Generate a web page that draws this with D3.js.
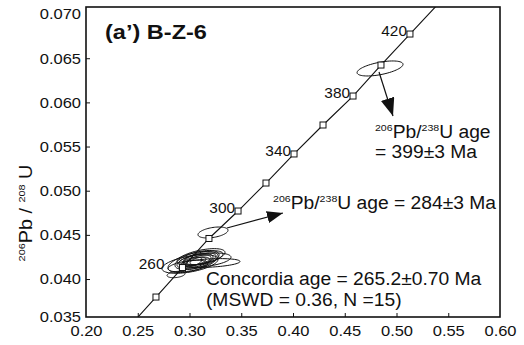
<!DOCTYPE html>
<html><head><meta charset="utf-8">
<script src="https://cdn.jsdelivr.net/npm/d3@7"></script>
<style>
body{margin:0;background:#fff}
svg{display:block}
text{font-family:"Liberation Sans",Arial,Helvetica,sans-serif;fill:#111}
</style>
</head><body>
<svg id="chart" width="524" height="345"></svg>
<script>
// ---------- data ----------
// concordia curve (age in Ma, 207Pb/235U, 206Pb/238U)
const concordiaAges = [220, 240, 260, 280, 300, 320, 340, 360, 380, 400, 420, 440];
const concordiaX    = [0.2420, 0.2676, 0.2932, 0.3188, 0.3469, 0.3739, 0.4010, 0.4290, 0.4580, 0.4850, 0.5130, 0.5411];
const concordiaY    = [0.03462, 0.03796, 0.04130, 0.04459, 0.04770, 0.05087, 0.05416, 0.05744, 0.06072, 0.06423, 0.06774, 0.07125];
const markedAges    = [240, 260, 280, 300, 320, 340, 360, 380, 400, 420];
const labelledAges  = [260, 300, 340, 380, 420];

// error ellipses of the concordant cluster (N = 15)
const clusterX   = [0.3073, 0.3053, 0.3101, 0.3034, 0.3092, 0.3005, 0.3130, 0.3063, 0.3198, 0.2870, 0.3111, 0.3024, 0.3082, 0.3150, 0.2986];
const clusterY   = [0.04215, 0.04204, 0.04227, 0.04193, 0.04215, 0.04170, 0.04238, 0.04181, 0.04181, 0.04051, 0.04249, 0.04193, 0.04204, 0.04215, 0.04147];
const clusterSx  = [0.0213, 0.0174, 0.0155, 0.0242, 0.0116, 0.0271, 0.0193, 0.0135, 0.0290, 0.0087, 0.0232, 0.0097, 0.0077, 0.0251, 0.0193];
const clusterSy  = [0.00108, 0.00082, 0.00068, 0.00120, 0.00055, 0.00105, 0.00082, 0.00068, 0.00050, 0.00036, 0.00095, 0.00055, 0.00042, 0.00080, 0.00066];
const clusterRho = [0.55, 0.55, 0.5, 0.55, 0.5, 0.5, 0.55, 0.5, 0.35, 0.3, 0.55, 0.5, 0.5, 0.4, 0.45];

// the two older grains
const singleX   = [0.3227, 0.4841];
const singleY   = [0.04527, 0.06384];
const singleSx  = [0.0145, 0.0222];
const singleSy  = [0.00062, 0.00085];
const singleRho = [0.4, 0.55];

const xTicks = [0.20, 0.25, 0.30, 0.35, 0.40, 0.45, 0.50, 0.55, 0.60];
const yTicks = [0.035, 0.040, 0.045, 0.050, 0.055, 0.060, 0.065, 0.070];

// ---------- layout ----------
const svg = d3.select("#chart");
const L = 86, R = 500, T = 7, B = 317;
const x = d3.scaleLinear().domain([0.20, 0.60]).range([L, R]);
const y = d3.scaleLinear().domain([0.0357, 0.0708]).range([B, T]);
const yAxisScale = y.copy().clamp(true);
const SX = 1.1;   // horizontal stretch of tick lettering
const SXA = 1.07; // horizontal stretch of annotation lettering

const defs = svg.append("defs");
defs.append("clipPath").attr("id", "plotclip")
  .append("rect").attr("x", L).attr("y", T).attr("width", R - L).attr("height", B - T);
function marker(id, len, half) {
  defs.append("marker").attr("id", id)
    .attr("markerUnits", "userSpaceOnUse")
    .attr("viewBox", `0 ${-half} ${len} ${half * 2}`)
    .attr("markerWidth", len).attr("markerHeight", half * 2)
    .attr("refX", len).attr("refY", 0).attr("orient", "auto")
    .append("path").attr("d", `M0,${-half}L${len},0L0,${half}Z`).attr("fill", "#111");
}
marker("arrowA", 16, 6);
marker("arrowB", 18, 7);

const plot = svg.append("g").attr("clip-path", "url(#plotclip)");

// ---------- ellipses ----------
function ellipsePath(cx, cy, sx, sy, rho) {
  const pts = d3.range(0, 72).map(i => {
    const t = i / 72 * 2 * Math.PI;
    return [x(cx + sx * Math.cos(t)),
            y(cy + sy * (rho * Math.cos(t) + Math.sqrt(1 - rho * rho) * Math.sin(t)))];
  });
  return d3.line().curve(d3.curveLinearClosed)(pts);
}
plot.selectAll("path.cluster").data(clusterX.map((d, i) => i)).join("path")
  .attr("class", "cluster")
  .attr("d", i => ellipsePath(clusterX[i], clusterY[i], clusterSx[i], clusterSy[i], clusterRho[i]))
  .attr("fill", "none").attr("stroke", "#111").attr("stroke-width", 1);
plot.selectAll("path.single").data(singleX.map((d, i) => i)).join("path")
  .attr("class", "single")
  .attr("d", i => ellipsePath(singleX[i], singleY[i], singleSx[i], singleSy[i], singleRho[i]))
  .attr("fill", "none").attr("stroke", "#111").attr("stroke-width", 1);

// ---------- concordia ----------
const conc = concordiaAges.map((a, i) => ({age: a, x: concordiaX[i], y: concordiaY[i]}));
plot.append("path").datum(conc)
  .attr("d", d3.line().x(d => x(d.x)).y(d => y(d.y)))
  .attr("fill", "none").attr("stroke", "#111").attr("stroke-width", 1.1);
const marked = conc.filter(d => markedAges.includes(d.age));
plot.selectAll("rect.tick").data(marked).join("rect")
  .attr("class", "tick")
  .attr("x", d => x(d.x) - 3).attr("y", d => y(d.y) - 3)
  .attr("width", 6).attr("height", 6)
  .attr("fill", "#fff").attr("stroke", "#111").attr("stroke-width", 1);

const labelled = conc.filter(d => labelledAges.includes(d.age));
svg.selectAll("text.age").data(labelled).join("text")
  .attr("class", "age")
  .attr("transform", d => `translate(${x(d.x) - (d.age === 260 ? 18 : 3)},${y(d.y) - 3}) scale(${SX},1)`)
  .attr("text-anchor", "end").attr("dy", "0.35em")
  .attr("font-size", 14).text(d => d.age);

// ---------- arrows ----------
const arrows = [
  {from: [0.3362, 0.04578], to: [0.3903, 0.04748], m: "arrowA"},
  {from: [0.4831, 0.06344], to: [0.4966, 0.05846], m: "arrowB"}
];
svg.selectAll("line.arrow").data(arrows).join("line")
  .attr("class", "arrow")
  .attr("x1", d => x(d.from[0])).attr("y1", d => y(d.from[1]))
  .attr("x2", d => x(d.to[0])).attr("y2", d => y(d.to[1]))
  .attr("stroke", "#111").attr("stroke-width", 1.2)
  .attr("marker-end", d => `url(#${d.m})`);

// ---------- frame & axes ----------
svg.append("rect").attr("x", L).attr("y", T).attr("width", R - L).attr("height", B - T)
  .attr("fill", "none").attr("stroke", "#111").attr("stroke-width", 1.6);

const xAxis = svg.append("g").attr("transform", `translate(0,${B})`)
  .call(d3.axisBottom(x).tickValues(xTicks).tickSize(-4).tickPadding(8).tickFormat(d3.format(".2f")));
const yAxis = svg.append("g").attr("transform", `translate(${L},0)`)
  .call(d3.axisLeft(yAxisScale).tickValues(yTicks).tickSize(-4).tickPadding(5).tickFormat(d3.format(".3f")));
[xAxis, yAxis].forEach(g => {
  g.select(".domain").remove();
  g.selectAll("line").attr("stroke", "#111").attr("stroke-width", 1);
  g.selectAll("text").attr("font-size", 15).attr("fill", "#111")
    .style("font-family", '"Liberation Sans",Arial,sans-serif');
});
xAxis.selectAll(".tick text").attr("transform", `scale(${SX},1)`);
yAxis.selectAll(".tick text").attr("x", 0).attr("transform", `translate(-5,0) scale(${SX},1)`);
yAxis.selectAll(".tick").filter(d => d === 0.035 || d === 0.070).select("line").remove();
xAxis.selectAll(".tick").filter(d => d === 0.20 || d === 0.60).select("line").remove();

// ---------- rich text helper ----------
function rich(px, py, parts, size, opts = {}) {
  const t = svg.append("text")
    .attr("transform", `translate(${px},${py})${opts.rotate ? " rotate(" + opts.rotate + ")" : ""} scale(${opts.sx || SXA},1)`)
    .attr("font-size", size).attr("text-anchor", opts.anchor || "start")
    .attr("font-weight", opts.bold ? "bold" : null);
  let raised = false;
  parts.forEach(p => {
    const sup = typeof p === "object";
    const s = t.append("tspan").text(sup ? p.sup : p);
    if (sup) { s.attr("font-size", size * 0.55).attr("dy", raised ? 0 : -size * 0.4); raised = true; }
    else { if (raised) s.attr("dy", size * 0.4); raised = false; }
  });
  return t;
}

// ---------- annotations ----------
rich(x(0.2184), y(0.06718), ["(a\u2019) B-Z-6"], 21, {bold: true, sx: 1.12});
rich(x(0.3807), y(0.04793), [{sup: "206"}, "Pb/", {sup: "238"}, "U age = 284\u00b13 Ma"], 18);
rich(x(0.4792), y(0.05597), [{sup: "206"}, "Pb/", {sup: "238"}, "U age"], 18);
rich(x(0.4792), y(0.05370), ["= 399\u00b13 Ma"], 18);
rich(x(0.3159), y(0.03932), ["Concordia age = 265.2\u00b10.70 Ma"], 18);
rich(x(0.3159), y(0.03695), ["(MSWD = 0.36, N =15)"], 18);

// y axis title
rich(32, 213, [{sup: "206"}, "Pb / ", {sup: "208"}, " U"], 18, {rotate: -90, anchor: "middle", sx: 1.1});
</script>
</body></html>
